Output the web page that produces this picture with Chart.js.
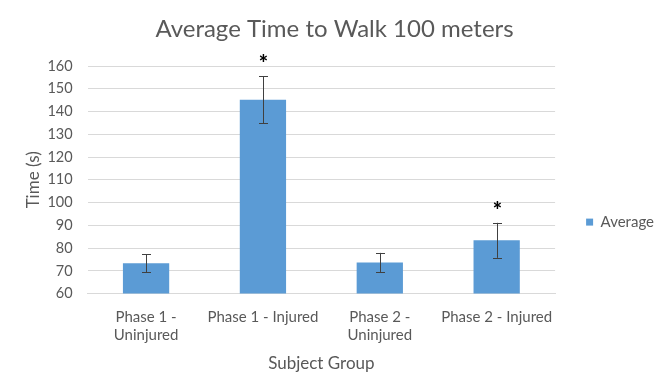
<!DOCTYPE html>
<html><head><meta charset="utf-8">
<script src="https://cdn.jsdelivr.net/npm/chart.js@4/dist/chart.umd.min.js"></script>
<style>html,body{margin:0;padding:0;background:#fff}#wrap{width:664px;height:391px}</style>
</head><body><div id="wrap"><canvas id="c" width="664" height="391"></canvas></div>
<script>
const categories = [["Phase 1 -","Uninjured"], "Phase 1 - Injured", ["Phase 2 -","Uninjured"], "Phase 2 - Injured"];
const averages = [73.3, 145.2, 73.7, 83.4];
const errors = [4.0, 10.4, 4.2, 7.7];
const significant = [false, true, false, true];
const yTicks = {min: 60, max: 160, step: 10};

const FONT = "Lato, 'Open Sans', sans-serif";
const GREY = "#595959";

const errorBarPlugin = {
  id: 'errorBars',
  afterDatasetsDraw(chart) {
    const ctx = chart.ctx;
    const meta = chart.getDatasetMeta(0);
    const y = chart.scales.y;
    ctx.save();
    meta.data.forEach((bar, i) => {
      const v = averages[i], e = errors[i];
      const yt = y.getPixelForValue(v + e), yb = y.getPixelForValue(v - e);
      const x = Math.round(bar.x);
      ctx.strokeStyle = '#404040';
      ctx.lineWidth = 1;
      ctx.beginPath();
      ctx.moveTo(x + 0.5, yt); ctx.lineTo(x + 0.5, yb);
      ctx.moveTo(x - 4, Math.round(yt) + 0.5); ctx.lineTo(x + 5, Math.round(yt) + 0.5);
      ctx.moveTo(x - 4, Math.round(yb) + 0.5); ctx.lineTo(x + 5, Math.round(yb) + 0.5);
      ctx.stroke();
      if (significant[i]) {
        ctx.fillStyle = '#000';
        ctx.font = "900 22px " + FONT;
        ctx.textAlign = 'center';
        ctx.textBaseline = 'middle';
        ctx.fillText('*', x + 0.5, yt - 12);
      }
    });
    ctx.restore();
  }
};

new Chart(document.getElementById('c'), {
  type: 'bar',
  data: {
    labels: categories,
    datasets: [{
      label: 'Average',
      data: averages,
      backgroundColor: '#5b9bd5',
      borderWidth: 0,
      barPercentage: 0.6,
      categoryPercentage: 0.66
    }]
  },
  options: {
    responsive: false,
    animation: false,
    devicePixelRatio: 1,
    layout: {padding: {left: 5, right: 0, top: 8, bottom: 13}},
    plugins: {
      title: {display: true, text: 'Average Time to Walk 100 meters', color: GREY,
        font: {family: FONT, size: 24, weight: 'normal'}, padding: {top: 6.6, bottom: 22.6}},
      legend: {position: 'right', align: 'center', maxWidth: 120,
        title: {display: true, text: ' ', font: {size: 1}, padding: {top: 0, bottom: 57}},
        labels: {color: GREY, font: {family: FONT, size: 15}, boxWidth: 7, boxHeight: 7, padding: 31}},
      tooltip: {enabled: false}
    },
    scales: {
      x: {
        grid: {display: false},
        border: {display: true, color: '#d9d9d9'},
        ticks: {color: GREY, font: {family: FONT, size: 15, lineHeight: 1.2}, maxRotation: 0, autoSkip: false, padding: 7},
        title: {display: true, text: 'Subject Group', color: GREY, font: {family: FONT, size: 17}, padding: {top: 2, bottom: 4}}
      },
      y: {
        min: yTicks.min, max: yTicks.max,
        grid: {color: '#d9d9d9', drawTicks: false},
        border: {display: false},
        ticks: {stepSize: yTicks.step, color: GREY, font: {family: FONT, size: 14.5}, padding: 15},
        title: {display: true, text: 'Time (s)', color: GREY, font: {family: FONT, size: 17}, padding: {top: 18, bottom: -11}}
      }
    }
  },
  plugins: [errorBarPlugin]
});
</script></body></html>
